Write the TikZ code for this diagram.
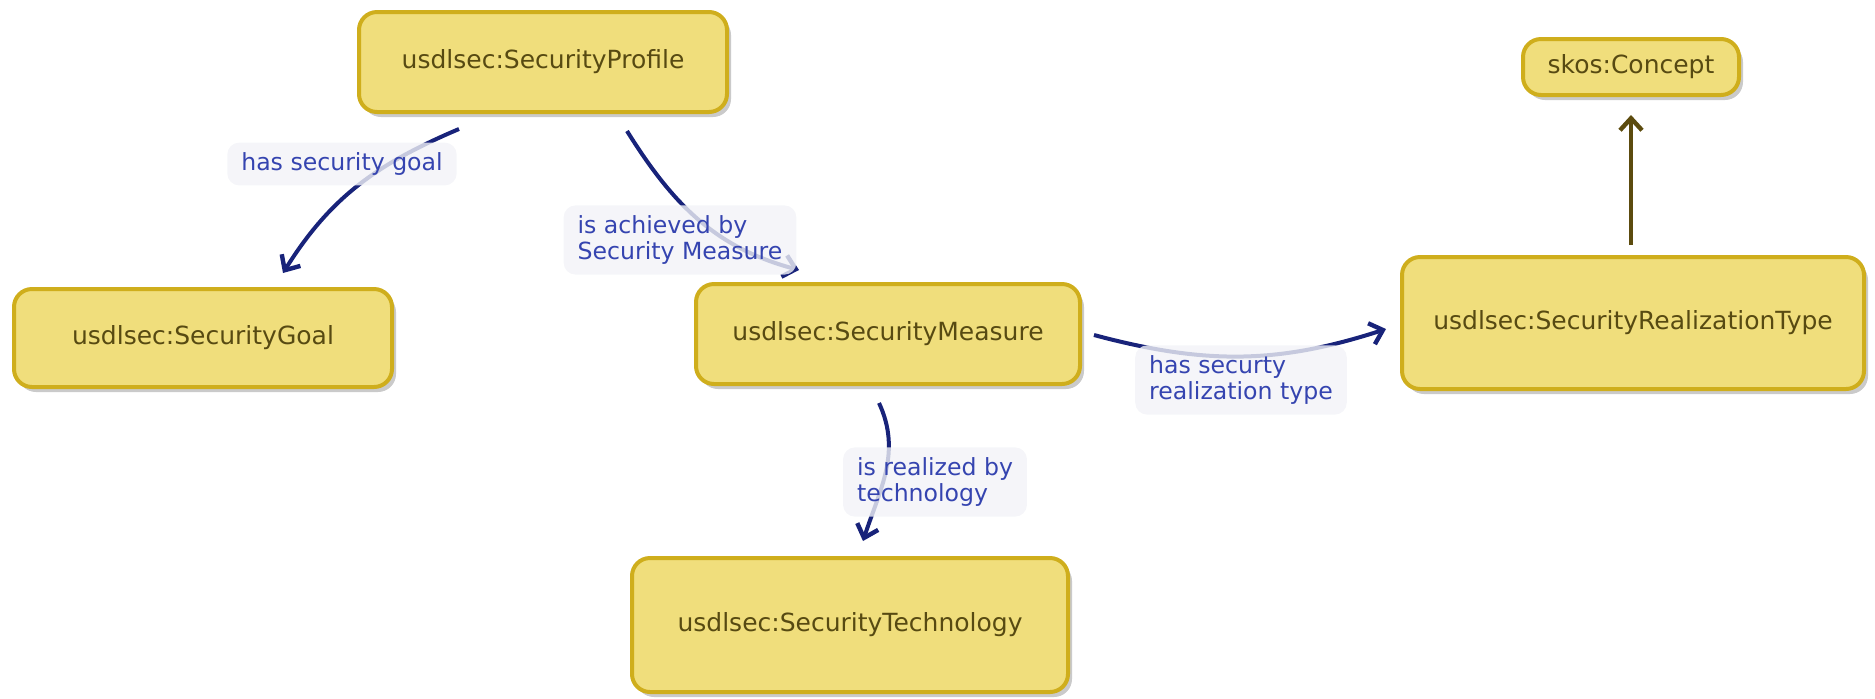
\documentclass[tikz,border=0pt]{standalone}
\usepackage{fontspec}
\setmainfont{DejaVu Sans}
\usepackage{tikz}
\usetikzlibrary{arrows.meta,shadows}

\definecolor{clsfill}{HTML}{F0DE7C}
\definecolor{clsdraw}{HTML}{CFAE1C}
\definecolor{clstext}{HTML}{574A12}
\definecolor{relline}{HTML}{18237A}
\definecolor{reltext}{HTML}{3544B0}
\definecolor{lblfill}{HTML}{F2F3F7}
\definecolor{isaline}{HTML}{5C4B0E}

\begin{document}
\begin{tikzpicture}[x=0.5pt,y=-0.5pt,>={Straight Barb[length=6pt,width=11pt,line width=2.2pt]},
  cls/.style={rectangle,rounded corners=9pt,draw=clsdraw,line width=2pt,fill=clsfill,text=clstext,
    font=\fontsize{12.5}{15}\selectfont,
    drop shadow={shadow xshift=2pt,shadow yshift=-2.5pt,opacity=0.35,fill=black!60}},
  rel/.style={->,relline,line width=2pt},
  lbl/.style={rectangle,rounded corners=6pt,fill=lblfill,fill opacity=0.8,text opacity=1,text=reltext,
    align=left,inner xsep=7pt,inner ysep=5pt,font=\fontsize{11.8}{13.2}\selectfont}]
\useasboundingbox (0,0) rectangle (1875,698);
% classes
\node[cls,minimum width=184pt,minimum height=50pt] (prof) at (543,62) {usdlsec:SecurityProfile};
\node[cls,minimum width=108pt,minimum height=28pt] (con) at (1631,67) {skos:Concept};
\node[cls,minimum width=189pt,minimum height=49pt] (goal) at (203,338) {usdlsec:SecurityGoal};
\node[cls,minimum width=192pt,minimum height=50pt] (meas) at (888,334) {usdlsec:SecurityMeasure};
\node[cls,minimum width=231pt,minimum height=66pt] (rt) at (1633,323) {usdlsec:SecurityRealizationType};
\node[cls,minimum width=218pt,minimum height=67pt] (tech) at (850,625) {usdlsec:SecurityTechnology};
% relations
\draw[rel] (prof.south) ++(-84,15) to[out=203,in=58] ([shift={(80,-14)}]goal.north);
\draw[rel] (prof.south) ++(84,17) to[out=-58,in=165] ([shift={(-89,-12)}]meas.north);
\draw[rel] (meas.east) ++(12,1) to[out=-15,in=198] ([shift={(-14,6)}]rt.west);
\draw[rel] (meas.south) ++(-9,17) to[out=-65,in=72] ([shift={(13,-15)}]tech.north);
\draw[->,isaline,line width=2pt] (rt.north) ++(-2,-10) -- ([yshift=-9pt]con.south);
% labels
\node[lbl] (lgoal) at (342,164) {has security goal};
\node[lbl] (lmeas) at (680,240) {is achieved by\\Security Measure};
\node[lbl] (lrt) at (1241,380) {has securty\\realization type};
\node[lbl] (ltech) at (935,482) {is realized by\\technology};
\end{tikzpicture}
\end{document}
